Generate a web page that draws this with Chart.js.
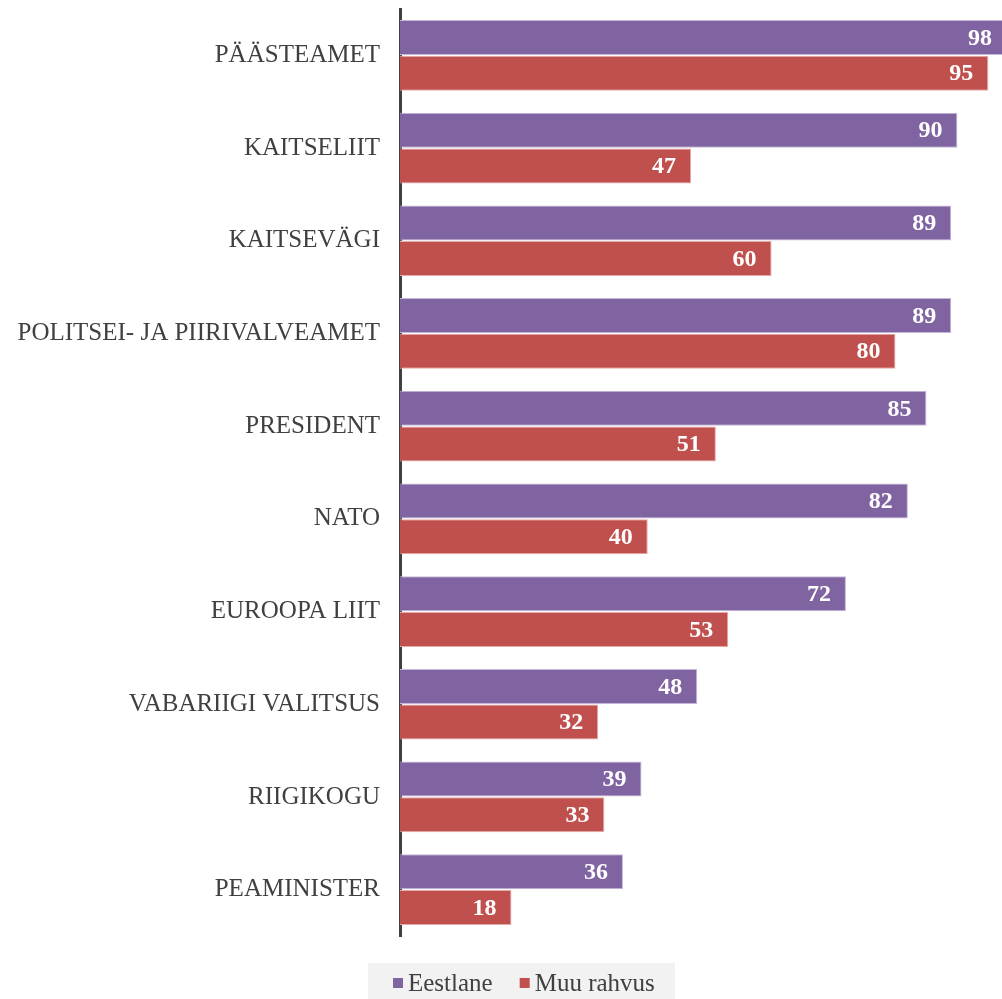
<!DOCTYPE html>
<html>
<head>
  <meta charset="utf-8">
  <title>Usaldus institutsioonide vastu</title>
  <script src="https://cdn.jsdelivr.net/npm/chart.js"></script>
  <style>
    body { margin: 0; background: #fff; }
    #wrap { width: 1002px; height: 999px; }
  </style>
</head>
<body>
  <div id="wrap">
    <canvas id="trustChart"></canvas>
  </div>

  <script>
    const categories = ['PÄÄSTEAMET', 'KAITSELIIT', 'KAITSEVÄGI', 'POLITSEI- JA PIIRIVALVEAMET', 'PRESIDENT',
      'NATO', 'EUROOPA LIIT', 'VABARIIGI VALITSUS', 'RIIGIKOGU', 'PEAMINISTER'];
    const eestlane = [98, 90, 89, 89, 85, 82, 72, 48, 39, 36];
    const muuRahvus = [95, 47, 60, 80, 51, 40, 53, 32, 33, 18];

    const serif = "'Liberation Serif', 'Times New Roman', serif";

    // white bold numbers inside the bar end
    const valueLabels = {
      id: 'valueLabels',
      afterDatasetsDraw(chart) {
        const ctx = chart.ctx;
        ctx.save();
        ctx.font = 'bold 24px ' + serif;
        ctx.fillStyle = '#ffffff';
        ctx.textAlign = 'right';
        ctx.textBaseline = 'middle';
        chart.data.datasets.forEach((ds, i) => {
          chart.getDatasetMeta(i).data.forEach((bar, j) => {
            ctx.fillText(ds.data[j], bar.x - 15, bar.y + 1);
          });
        });
        ctx.restore();
      }
    };

    // legend drawn by hand: grey strip at the bottom, small squares
    const bottomLegend = {
      id: 'bottomLegend',
      afterDraw(chart) {
        const ctx = chart.ctx;
        ctx.save();
        ctx.fillStyle = '#f2f2f2';
        ctx.fillRect(368, 963, 307, 36);
        ctx.font = '25px ' + serif;
        ctx.textBaseline = 'middle';
        let x = 393;
        const y = 983;
        chart.data.datasets.forEach(ds => {
          ctx.fillStyle = ds.backgroundColor;
          ctx.fillRect(x, y - 5, 10, 10);
          ctx.fillStyle = '#404040';
          ctx.fillText(ds.label, x + 15, y + 1);
          x += 15 + ctx.measureText(ds.label).width + 27;
        });
        ctx.restore();
      }
    };

    new Chart(document.getElementById('trustChart'), {
      type: 'bar',
      data: {
        labels: categories,
        datasets: [{
          label: 'Eestlane',
          data: eestlane,
          backgroundColor: '#8064a2',
          borderColor: '#c4b6d8',
          borderWidth: 1,
          barPercentage: 0.98,
          categoryPercentage: 0.77
        }, {
          label: 'Muu rahvus',
          data: muuRahvus,
          backgroundColor: '#c0504d',
          borderColor: '#e6aaa8',
          borderWidth: 1,
          barPercentage: 0.98,
          categoryPercentage: 0.77
        }]
      },
      options: {
        indexAxis: 'y',
        responsive: true,
        maintainAspectRatio: false,
        animation: false,
        layout: {
          padding: { top: 9, right: 0, left: 0, bottom: 63 }
        },
        scales: {
          x: {
            display: false,
            min: 0,
            max: 97.2
          },
          y: {
            grid: { display: false, drawTicks: false },
            border: { display: true, color: '#404040', width: 3 },
            ticks: {
              color: '#404040',
              padding: 20,
              font: { family: serif, size: 25 }
            },
            afterFit(scale) {
              scale.width = 400;
              scale.paddingTop = 0;
              scale.paddingBottom = 0;
            }
          }
        },
        plugins: {
          legend: { display: false },
          tooltip: { enabled: false }
        }
      },
      plugins: [valueLabels, bottomLegend]
    });
  </script>
</body>
</html>
